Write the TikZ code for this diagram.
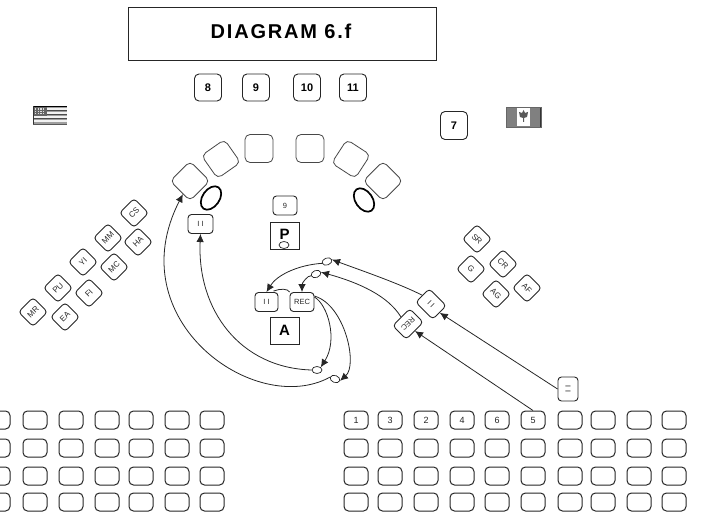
\documentclass[tikz,border=0pt]{standalone}
\usepackage{fontspec}
\setmainfont{Liberation Sans}
\newfontfamily\titlefont[LetterSpace=9]{Liberation Sans Bold}
\usetikzlibrary{arrows.meta,shapes.geometric,calc}
\definecolor{ink}{gray}{0.15}
\tikzset{
  seatbox/.style={draw=ink,line width=1pt,rounded corners=4.5pt,fill=white,minimum width=24pt,minimum height=18pt,inner sep=0pt,text=ink,font=\fontsize{8}{8}\selectfont},
  numbox/.style={draw=ink,line width=0.9pt,rounded corners=4.5pt,fill=white,minimum width=27pt,minimum height=27pt,inner sep=0pt,text=black,font=\fontsize{11}{11}\selectfont\bfseries},
  bigseat/.style={draw=ink!85,line width=0.8pt,rounded corners=5pt,fill=white,minimum width=28pt,minimum height=28pt,inner sep=0pt},
  namebox/.style={draw=ink,line width=0.9pt,rounded corners=3.5pt,fill=white,minimum width=20.5pt,minimum height=20.5pt,inner sep=0pt,text=ink,font=\fontsize{8}{8}\selectfont},
  smallbox/.style={draw=ink,line width=0.9pt,rounded corners=3.5pt,fill=white,minimum width=24pt,minimum height=19pt,inner sep=0pt,text=ink,font=\fontsize{7.5}{7.5}\selectfont},
  letterbox/.style={draw=ink,line width=0.8pt,fill=white,minimum width=29pt,minimum height=27pt,inner sep=0pt,text=black,font=\fontsize{15}{15}\selectfont\bfseries},
  ring/.style={draw=black,line width=1.7pt,ellipse,minimum width=26pt,minimum height=17pt,inner sep=0pt},
  dot/.style={draw=ink,line width=0.7pt,ellipse,fill=white,minimum width=10pt,minimum height=7pt,inner sep=0pt},
  curve/.style={draw=ink,line width=0.8pt},
  arrowed/.style={draw=ink,line width=0.8pt,-{Latex[length=8pt,width=7.5pt]}},
  digit/.style={font=\fontsize{9}{9}\selectfont,text=ink}
}
\begin{document}
\begin{tikzpicture}[x=1pt,y=-1pt]
\useasboundingbox (0,0) rectangle (702,513);
\clip (0,0) rectangle (702,513);
% title
\node[draw=ink,line width=1pt,minimum width=308pt,minimum height=53pt,inner sep=0pt] (title) at (282,34.5) {};
\node[font=\fontsize{20}{20}\selectfont\titlefont,text=black] (titletext) at (281,31) {DIAGRAM 6.f};
% numbers
\node[numbox] (n8) at (208,87.5) {8};
\node[numbox] (n9) at (256,87.5) {9};
\node[numbox] (n10) at (307,87.5) {10};
\node[numbox] (n11) at (353,87.5) {11};
\node[numbox,minimum height=28pt] (n7) at (454,125.5) {7};
% flags
\fill[gray!75] (33,106) rectangle (67,125);
\foreach \y in {108,112,116,120} \fill[white!90!gray] (33,\y) rectangle (67,\y+1.6);
\foreach \y in {110.2,114.2,118.2} \fill[black!70] (33,\y) rectangle (67,\y+1);
\fill[black!60] (33,106) rectangle (47,116);
\foreach \x in {35,37.6,40.2,42.8} \foreach \y in {108.4,110.8,113.2} \fill[white!75!gray] (\x,\y) rectangle (\x+1.3,\y+1.3);
\fill[black] (33,106) rectangle (67,107);
\fill[black!80] (33,106) rectangle (34,125);
\fill[black!65] (33,124) rectangle (67,125);
\fill[black!50] (506,107) rectangle (541,127);
\fill[black!80] (539.5,107) rectangle (541,127);
\fill[white] (517,108) rectangle (530,126);
\fill[black!65] (523.5,110) -- (525,113) -- (528,112) -- (527,117) -- (524,118) -- (524,122) -- (523,122) -- (523,118) -- (520,117) -- (519,112) -- (522,113) -- cycle;
\draw[black!60,line width=0.5pt] (506,107) rectangle (541,127);
% arc seats
\node[bigseat,rotate=45] (s1) at (190,181) {};
\node[bigseat,rotate=35] (s2) at (221,159) {};
\node[bigseat] (s3) at (259,148.5) {};
\node[bigseat] (s4) at (310,148.5) {};
\node[bigseat,rotate=-33] (s5) at (351,159) {};
\node[bigseat,rotate=45] (s6) at (383,181) {};
\node[ring,rotate=55] (r1) at (211,198) {};
\node[ring,rotate=-55] (r2) at (364,200) {};
% left names
\node[namebox,rotate=45] (cs) at (134,213) {CS};
\node[namebox,rotate=45] (mm) at (108,238) {MM};
\node[namebox,rotate=45] (ha) at (138,242) {HA};
\node[namebox,rotate=45] (yi) at (83,262) {YI};
\node[namebox,rotate=45] (mc) at (114,267) {MC};
\node[namebox,rotate=45] (pu) at (58,288) {PU};
\node[namebox,rotate=45] (fi) at (89,293) {FI};
\node[namebox,rotate=45] (mr) at (33,312) {MR};
\node[namebox,rotate=45] (ea) at (65,317) {EA};
% right names
\node[namebox,rotate=-45] (sr) at (477,239) {SR};
\node[namebox,rotate=-45] (g) at (471,269) {G};
\node[namebox,rotate=-45] (cr) at (503,264) {CR};
\node[namebox,rotate=-45] (ag) at (496,294) {AG};
\node[namebox,rotate=-45] (af) at (527,288) {AF};
% centre
\node[smallbox,minimum width=25pt] (ii1) at (200.5,224) {I I};
\node[smallbox] (s9) at (285,205.5) {9};
\node[letterbox] (p) at (284.5,235.5) {\raisebox{2pt}{P}};
\node[dot] (pd) at (284,245) {};
\node[letterbox] (a) at (284.5,330.5) {A};
\node[smallbox,minimum width=23pt] (ii2) at (266.5,302) {I I};
\node[smallbox] (rec) at (302,302) {REC};
\node[smallbox,rotate=-45] (t11) at (431,304) {\rotatebox{180}{I I}};
\node[smallbox,rotate=-135] (trec) at (408,324) {REC};
\node[smallbox,minimum width=24pt,minimum height=20pt,rotate=90] (eq) at (568,389) {I I};
% dots on curves
\node[dot,rotate=20] (d1) at (327,261.5) {};
\node[dot,rotate=20] (d2) at (316,274) {};
\node[dot] (d3) at (317,370) {};
\node[dot,rotate=-20] (d4) at (335,379) {};
% grid
\foreach \r/\y in {1/420,2/448,3/476,4/502}{
  \foreach \c/\x in {1/-2,2/35,3/71,4/107,5/141,6/177,7/212}{
    \node[seatbox] (l\r\c) at (\x,\y) {};
  }
  \foreach \c/\x in {1/356,2/390,3/426,4/462,5/497,6/533,7/570,8/603,9/639,10/674}{
    \node[seatbox] (g\r\c) at (\x,\y) {};
  }
}
\node[digit] (lab1) at (g11) {1};
\node[digit] (lab3) at (g12) {3};
\node[digit] (lab2) at (g13) {2};
\node[digit] (lab4) at (g14) {4};
\node[digit] (lab6) at (g15) {6};
\node[digit] (lab5) at (g16) {5};
% straight arrows
\draw[arrowed] (eq.north) -- (t11.east);
\draw[arrowed] (g16.north) -- (trec.north);
% curves
\draw[arrowed] (t11.west) .. controls (398,283) and (360,270) .. (d1.east);
\draw[arrowed] (d1.west) .. controls (298,265) and (277,275) .. (ii2.north);
\draw[arrowed] (trec.south) .. controls (388,296) and (360,283) .. (d2.east);
\draw[arrowed] (d2.west) .. controls (308,275) and (302,283) .. (rec.north);
\draw[curve] ($(ii2.north)+(7,-1)$) .. controls (280,288.5) and (288,288.5) .. (rec.north west);
\draw[arrowed] (rec.north east) ++(0,5) .. controls (328,305) and (338,340) .. (d3.north east);
\draw[arrowed] (rec.north east) ++(0,4) .. controls (345,305) and (358,365) .. (d4.east);
\draw[arrowed] (d3.west) .. controls (240,368) and (197,310) .. (ii1.south);
\draw[arrowed] (d4.west) .. controls (255,418) and (118,320) .. ($(s1.west)!0.3!(s1.south west)$);
\end{tikzpicture}
\end{document}
